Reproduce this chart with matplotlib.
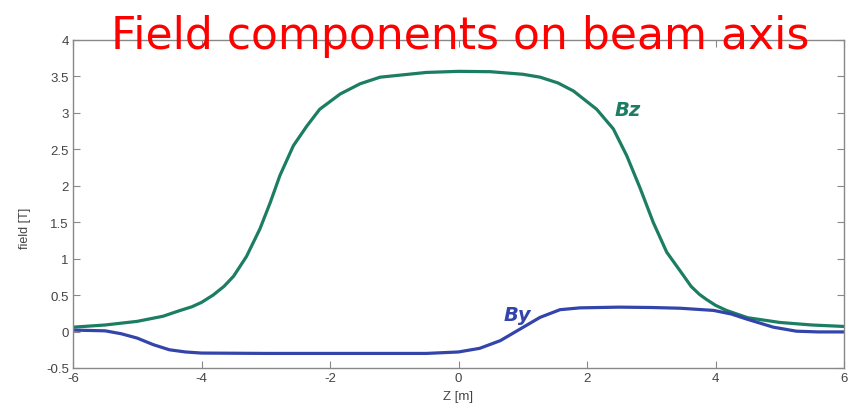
import matplotlib
matplotlib.use('Agg')
import matplotlib.pyplot as plt

plt.rcParams['axes.unicode_minus'] = False

# %% data
z_bz = [-6, -5.5, -5, -4.6, -4.33, -4.15, -4, -3.82, -3.65, -3.5, -3.3, -3.09, -2.93, -2.78,
        -2.57, -2.36, -2.16, -1.84, -1.53, -1.22, -0.5, 0, 0.5, 1, 1.27, 1.55, 1.79,
        2.15, 2.41, 2.62, 2.83, 3.03, 3.24, 3.5, 3.62, 3.75, 3.86, 4, 4.17, 4.5, 5, 5.5, 6]
bz = [0.06, 0.09, 0.14, 0.21, 0.29, 0.34, 0.40, 0.50, 0.62, 0.76, 1.03, 1.41, 1.77, 2.14,
      2.55, 2.82, 3.05, 3.26, 3.40, 3.49, 3.555, 3.57, 3.565, 3.53, 3.49, 3.41, 3.30,
      3.05, 2.78, 2.41, 1.96, 1.50, 1.09, 0.77, 0.62, 0.51, 0.44, 0.36, 0.29, 0.19, 0.125, 0.09, 0.07]

z_by = [-6, -5.5, -5.25, -5, -4.75, -4.5, -4.25, -4, -3, -2, -1, -0.5, 0, 0.33,
        0.65, 0.96, 1.27, 1.58, 1.89, 2.5, 3, 3.45, 3.97, 4.25, 4.49, 4.9,
        5.26, 5.6, 6]
by = [0.02, 0.01, -0.03, -0.09, -0.18, -0.25, -0.28, -0.295, -0.30, -0.30, -0.30, -0.30, -0.28, -0.23,
      -0.125, 0.035, 0.195, 0.30, 0.325, 0.335, 0.33, 0.32, 0.29, 0.24, 0.17, 0.06,
      0.005, -0.005, -0.005]

xticks = [-6, -4, -2, 0, 2, 4, 6]
yticks = [-0.5, 0, 0.5, 1, 1.5, 2, 2.5, 3, 3.5, 4]
ytick_labels = ['-0.5', '0', '0.5', '1', '1.5', '2', '2.5', '3', '3.5', '4']

# %% plot
W, H = 856, 406
fig = plt.figure(figsize=(W / 100, H / 100), dpi=100)
ax = fig.add_axes([73 / W, 1 - 369 / H, (844 - 73) / W, (369 - 41) / H])

green = '#1b7d62'
blue = '#3344aa'
ax.plot(z_bz, bz, color=green, lw=2.3, solid_joinstyle='round')
ax.plot(z_by, by, color=blue, lw=2.3, solid_joinstyle='round')

ax.set_xlim(-6, 6)
ax.set_ylim(-0.5, 4)
ax.set_xticks(xticks)
ax.set_yticks(yticks)
ax.set_yticklabels(ytick_labels)
ax.tick_params(direction='in', top=True, right=True, length=5, width=0.8,
               colors='#888888', labelcolor='#444444', labelsize=9.5, pad=3)
for sp in ax.spines.values():
    sp.set_color('#888888')
    sp.set_linewidth(1.0)
for lbl in ax.get_xticklabels() + ax.get_yticklabels():
    lbl.set_family('Liberation Sans')

fig.text(458 / W, 1 - 397 / H, 'Z [m]', ha='center', va='center',
         fontsize=9.5, color='#444444', family='Liberation Sans')
fig.text(25 / W, 1 - 228 / H, 'field [T]', ha='center', va='center', rotation=90,
         fontsize=9, color='#444444', family='Liberation Sans')

ax.text(2.64, 3.04, 'Bz', color=green, fontsize=14, fontweight='bold', style='italic',
        ha='center', va='center', family='DejaVu Sans')
ax.text(0.92, 0.24, 'By', color=blue, fontsize=14, fontweight='bold', style='italic',
        ha='center', va='center', family='DejaVu Sans')

fig.text(460 / W, 1 - 49 / H, 'Field components on beam axis', ha='center',
         va='baseline', fontsize=31.8, color='#ff0000', family='DejaVu Sans', zorder=10)

fig.savefig('out.png', dpi=100)
